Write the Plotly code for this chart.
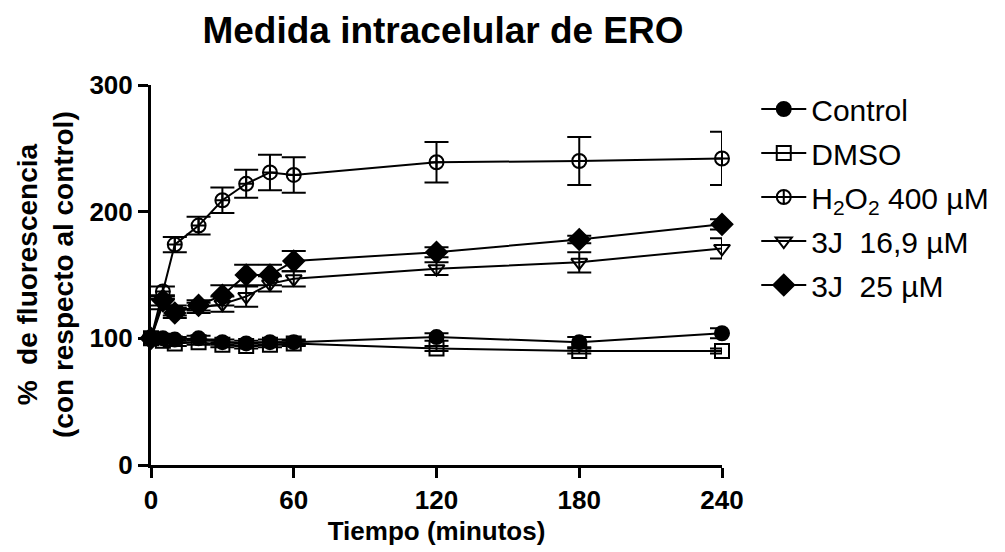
import plotly.graph_objects as go

# tiempos (min)
tiempo = [0, 5, 10, 20, 30, 40, 50, 60, 120, 180, 240]

# % de fluorescencia (media) y error
control = [100, 100, 99, 100, 97, 96, 97, 97, 101, 97, 104]
control_err = [1, 2, 2, 2, 2, 2, 2, 2, 3, 4, 4]
dmso = [100, 98, 96, 97, 95, 94, 95, 96, 92, 90, 90]
dmso_err = [1, 2, 2, 2, 2, 2, 2, 2, 2, 2, 2]
h2o2 = [100, 137, 174, 189, 209, 222, 231, 229, 239, 240, 242]
h2o2_err = [1, 4, 6, 7, 10, 11, 14, 14, 16, 19, 21]
j3_169 = [100, 127, 122, 124, 127, 133, 143, 147, 155, 160, 171]
j3_169_err = [1, 4, 4, 4, 6, 8, 6, 6, 5, 8, 8]
j3_25 = [100, 130, 120, 126, 134, 150, 150, 161, 168, 178, 190]
j3_25_err = [1, 4, 4, 4, 8, 8, 8, 8, 4, 3, 4]

series = [
    ("Control", control, control_err, "circle", 14),
    ("DMSO", dmso, dmso_err, "square-open", 14),
    ("H<sub>2</sub>O<sub>2</sub> 400 µM", h2o2, h2o2_err, "circle-cross-open", 14),
    ("3J  16,9 µM", j3_169, j3_169_err, "triangle-down-open", 14),
    ("3J  25 µM", j3_25, j3_25_err, "diamond", 16),
]

fig = go.Figure()
for i, (name, y, err, sym, size) in enumerate(series):
    fig.add_trace(go.Scatter(
        x=tiempo, y=y, name=name, mode="lines+markers",
        legendgroup=str(i),
        line=dict(color="black", width=2),
        marker=dict(symbol=sym, size=size, color="black",
                    line=dict(color="black", width=2)),
        error_y=dict(type="data", array=err, color="black", thickness=2, width=12),
        cliponaxis=False,
    ))

axis_font = dict(family="Liberation Sans Narrow, Arial, sans-serif", size=26, color="black", weight="bold")

fig.update_layout(
    width=1005, height=552,
    margin=dict(l=143, r=291, t=77, b=95),
    paper_bgcolor="white", plot_bgcolor="white",
    title=dict(text="<b>Medida intracelular de ERO</b>", x=435 / 1005, xanchor="center",
               y=1 - 22 / 552, yanchor="middle",
               font=dict(family="Liberation Sans, Arial, sans-serif", size=37, color="black")),
    legend=dict(x=1.06, y=1 + 2 / 380, xanchor="left", yanchor="top",
                font=dict(family="Liberation Sans, Arial, sans-serif", size=30, color="black"),
                tracegroupgap=2, itemwidth=45, bgcolor="rgba(0,0,0,0)"),
    showlegend=True,
)

# y-axis title as annotation so it sits where the reference has it
fig.add_annotation(
    text="<b>%  de fluorescencia<br>(con respecto al control)</b>",
    xref="paper", yref="paper", x=(37 - 143) / 571, y=0.5,
    xanchor="center", yanchor="middle", textangle=-90, showarrow=False,
    font=dict(family="Liberation Sans, Arial, sans-serif", size=28, color="black"),
)

fig.update_xaxes(
    range=[0, 240], tickvals=[0, 60, 120, 180, 240],
    showline=True, linecolor="black", linewidth=3, mirror=False,
    ticks="outside", ticklen=10, tickwidth=3, tickcolor="black",
    showgrid=False, zeroline=False, tickfont=axis_font,
    title=dict(text="<b>Tiempo (minutos)</b>", standoff=8,
               font=dict(family="Liberation Sans, Arial, sans-serif", size=26, color="black")),
)
fig.update_yaxes(
    range=[0, 300], tickvals=[0, 100, 200, 300],
    showline=True, linecolor="black", linewidth=3,
    ticks="outside", ticklen=10, tickwidth=3, tickcolor="black",
    showgrid=False, zeroline=False, tickfont=axis_font,
)

fig.write_html("out.html")
